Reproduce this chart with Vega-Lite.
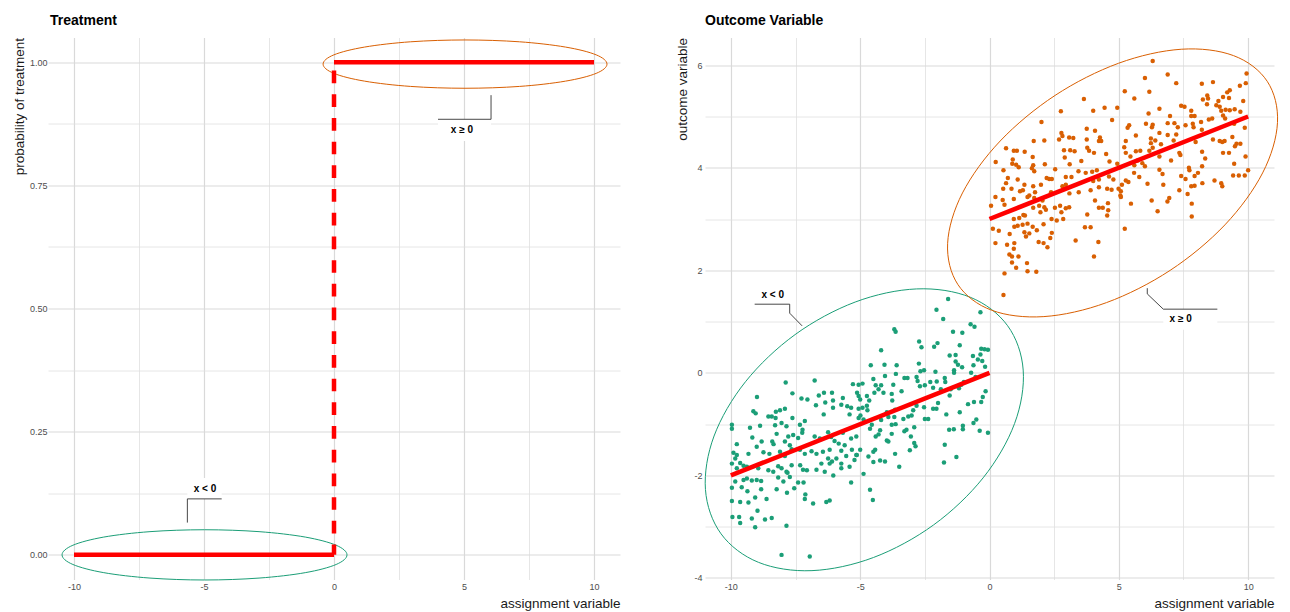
{
  "$schema": "https://vega.github.io/schema/vega-lite/v6.json",
  "background": "white",
  "padding": {"left": 12, "top": 13.5, "right": 5, "bottom": 5},
  "spacing": 55,
  "config": {
    "font": "Liberation Sans",
    "view": {"stroke": null},
    "axis": {
      "domain": false,
      "ticks": false,
      "labelFontSize": 9,
      "labelColor": "#4d4d4d",
      "labelPadding": 3,
      "labelFlush": false,
      "labelOverlap": false,
      "titleFontSize": 13.5,
      "titleFontWeight": "normal",
      "titleColor": "#1a1a1a",
      "titleAnchor": "end",
      "titlePadding": 4
    },
    "axisX": {"titlePadding": 5},
    "title": {"anchor": "start", "frame": "group", "fontSize": 14, "fontWeight": "bold", "color": "#000000", "offset": 10, "baseline": "bottom"}
  },
  "datasets": {
    "ellipses": [
      {"e": "tl", "i": 0, "x": 0.5, "y": 0},
      {"e": "tl", "i": 1, "x": 0.083, "y": 0.0195},
      {"e": "tl", "i": 2, "x": -1.105, "y": 0.0361},
      {"e": "tl", "i": 3, "x": -2.883, "y": 0.0471},
      {"e": "tl", "i": 4, "x": -4.98, "y": 0.051},
      {"e": "tl", "i": 5, "x": -7.077, "y": 0.0471},
      {"e": "tl", "i": 6, "x": -8.855, "y": 0.0361},
      {"e": "tl", "i": 7, "x": -10.043, "y": 0.0195},
      {"e": "tl", "i": 8, "x": -10.46, "y": 0},
      {"e": "tl", "i": 9, "x": -10.043, "y": -0.0195},
      {"e": "tl", "i": 10, "x": -8.855, "y": -0.0361},
      {"e": "tl", "i": 11, "x": -7.077, "y": -0.0471},
      {"e": "tl", "i": 12, "x": -4.98, "y": -0.051},
      {"e": "tl", "i": 13, "x": -2.883, "y": -0.0471},
      {"e": "tl", "i": 14, "x": -1.105, "y": -0.0361},
      {"e": "tl", "i": 15, "x": 0.083, "y": -0.0195},
      {"e": "tr", "i": 0, "x": 10.5, "y": 0.996},
      {"e": "tr", "i": 1, "x": 10.084, "y": 1.0148},
      {"e": "tr", "i": 2, "x": 8.901, "y": 1.0306},
      {"e": "tr", "i": 3, "x": 7.13, "y": 1.0413},
      {"e": "tr", "i": 4, "x": 5.04, "y": 1.045},
      {"e": "tr", "i": 5, "x": 2.95, "y": 1.0413},
      {"e": "tr", "i": 6, "x": 1.179, "y": 1.0306},
      {"e": "tr", "i": 7, "x": -0.004, "y": 1.0148},
      {"e": "tr", "i": 8, "x": -0.42, "y": 0.996},
      {"e": "tr", "i": 9, "x": -0.004, "y": 0.9772},
      {"e": "tr", "i": 10, "x": 1.179, "y": 0.9614},
      {"e": "tr", "i": 11, "x": 2.95, "y": 0.9507},
      {"e": "tr", "i": 12, "x": 5.04, "y": 0.947},
      {"e": "tr", "i": 13, "x": 7.13, "y": 0.9507},
      {"e": "tr", "i": 14, "x": 8.901, "y": 0.9614},
      {"e": "tr", "i": 15, "x": 10.084, "y": 0.9772},
      {"e": "ol", "i": 0, "x": 0.7, "y": 0.919},
      {"e": "ol", "i": 1, "x": -0.746, "y": 1.475},
      {"e": "ol", "i": 2, "x": -2.816, "y": 1.637},
      {"e": "ol", "i": 3, "x": -5.193, "y": 1.381},
      {"e": "ol", "i": 4, "x": -7.517, "y": 0.746},
      {"e": "ol", "i": 5, "x": -9.433, "y": -0.172},
      {"e": "ol", "i": 6, "x": -10.65, "y": -1.232},
      {"e": "ol", "i": 7, "x": -10.983, "y": -2.274},
      {"e": "ol", "i": 8, "x": -10.38, "y": -3.139},
      {"e": "ol", "i": 9, "x": -8.934, "y": -3.695},
      {"e": "ol", "i": 10, "x": -6.864, "y": -3.857},
      {"e": "ol", "i": 11, "x": -4.487, "y": -3.601},
      {"e": "ol", "i": 12, "x": -2.163, "y": -2.966},
      {"e": "ol", "i": 13, "x": -0.247, "y": -2.048},
      {"e": "ol", "i": 14, "x": 0.97, "y": -0.988},
      {"e": "ol", "i": 15, "x": 1.303, "y": 0.054},
      {"e": "or", "i": 0, "x": 10.739, "y": 5.685},
      {"e": "or", "i": 1, "x": 9.433, "y": 6.187},
      {"e": "or", "i": 2, "x": 7.414, "y": 6.311},
      {"e": "or", "i": 3, "x": 4.992, "y": 6.038},
      {"e": "or", "i": 4, "x": 2.534, "y": 5.41},
      {"e": "or", "i": 5, "x": 0.414, "y": 4.522},
      {"e": "or", "i": 6, "x": -1.044, "y": 3.509},
      {"e": "or", "i": 7, "x": -1.619, "y": 2.527},
      {"e": "or", "i": 8, "x": -1.223, "y": 1.723},
      {"e": "or", "i": 9, "x": 0.083, "y": 1.221},
      {"e": "or", "i": 10, "x": 2.102, "y": 1.097},
      {"e": "or", "i": 11, "x": 4.524, "y": 1.37},
      {"e": "or", "i": 12, "x": 6.982, "y": 1.998},
      {"e": "or", "i": 13, "x": 9.102, "y": 2.886},
      {"e": "or", "i": 14, "x": 10.56, "y": 3.899},
      {"e": "or", "i": 15, "x": 11.135, "y": 4.881}
    ],
    "treatFits": [
      {"x": -10, "x2": 0, "y": 0, "y2": 0},
      {"x": 0, "x2": 10, "y": 1, "y2": 1}
    ],
    "treatJump": [
      {"x": 0, "y": 0, "y2": 1}
    ],
    "outcomeFits": [
      {"x": -10, "x2": 0, "y": -2, "y2": 0},
      {"x": 0, "x2": 10, "y": 3, "y2": 5}
    ],
    "leaders": [
      {"p": "t", "e": "a", "i": 0, "x": -5.64, "y": 0.0655},
      {"p": "t", "e": "a", "i": 1, "x": -5.64, "y": 0.1136},
      {"p": "t", "e": "a", "i": 2, "x": -4.32, "y": 0.1136},
      {"p": "t", "e": "b", "i": 0, "x": 6.04, "y": 0.933},
      {"p": "t", "e": "b", "i": 1, "x": 6.04, "y": 0.884},
      {"p": "t", "e": "b", "i": 2, "x": 4.0, "y": 0.884},
      {"p": "o", "e": "a", "i": 0, "x": -7.245, "y": 0.916},
      {"p": "o", "e": "a", "i": 1, "x": -7.725, "y": 1.164},
      {"p": "o", "e": "a", "i": 2, "x": -7.725, "y": 1.339},
      {"p": "o", "e": "a", "i": 3, "x": -9.08, "y": 1.339},
      {"p": "o", "e": "b", "i": 0, "x": 6.1, "y": 1.651},
      {"p": "o", "e": "b", "i": 1, "x": 6.1, "y": 1.54},
      {"p": "o", "e": "b", "i": 2, "x": 6.72, "y": 1.242},
      {"p": "o", "e": "b", "i": 3, "x": 8.81, "y": 1.242}
    ],
    "labels": [
      {"p": "t", "t": "x < 0", "tx": -4.96, "ty": 0.134, "x": -5.64, "x2": -4.32, "y": 0.1136, "y2": 0.156},
      {"p": "t", "t": "x ≥ 0", "tx": 4.92, "ty": 0.862, "x": 4.0, "x2": 6.04, "y": 0.884, "y2": 0.84},
      {"p": "o", "t": "x < 0", "tx": -8.38, "ty": 1.52, "x": -9.08, "x2": -7.725, "y": 1.339, "y2": 1.72},
      {"p": "o", "t": "x ≥ 0", "tx": 7.39, "ty": 1.047, "x": 6.72, "x2": 8.81, "y": 1.242, "y2": 0.84}
    ],
    "control": [
      {"x":-7.88,"y":-0.19},{"x":-6.76,"y":-0.15},{"x":-8.99,"y":-0.47},{"x":-7.62,"y":-0.40},{"x":-7.27,"y":-0.50},{"x":-7.04,"y":-0.52},{"x":-6.60,"y":-0.44},{"x":-6.40,"y":-0.39},{"x":-6.71,"y":-0.63},{"x":-6.09,"y":-0.39},
      {"x":-6.35,"y":-0.58},{"x":-6.05,"y":-0.54},{"x":-5.28,"y":-0.22},{"x":-5.67,"y":-0.49},{"x":-5.35,"y":-0.68},{"x":-5.50,"y":-0.65},{"x":-5.41,"y":-0.81},{"x":-5.12,"y":-0.39},{"x":-9.13,"y":-0.75},{"x":-9.04,"y":-0.79},
      {"x":-8.55,"y":-0.85},{"x":-8.42,"y":-0.85},{"x":-8.26,"y":-0.76},{"x":-8.10,"y":-0.73},{"x":-7.91,"y":-0.70},{"x":-8.27,"y":-0.88},{"x":-8.04,"y":-0.98},{"x":-7.62,"y":-0.88},{"x":-9.96,"y":-1.01},{"x":-9.96,"y":-1.09},
      {"x":-9.26,"y":-1.07},{"x":-8.87,"y":-1.03},{"x":-8.29,"y":-1.02},{"x":-7.85,"y":-1.04},{"x":-7.33,"y":-1.01},{"x":-7.14,"y":-0.94},{"x":-7.23,"y":-1.11},{"x":-6.41,"y":-0.81},{"x":-6.05,"y":-0.68},{"x":-5.73,"y":-0.62},
      {"x":-9.17,"y":-1.26},{"x":-8.23,"y":-1.19},{"x":-7.78,"y":-1.24},{"x":-7.59,"y":-1.21},{"x":-7.40,"y":-1.27},{"x":-7.24,"y":-1.17},{"x":-6.76,"y":-1.24},{"x":-6.56,"y":-1.28},{"x":-6.24,"y":-1.16},{"x":-6.12,"y":-1.25},
      {"x":-5.67,"y":-1.17},{"x":-5.99,"y":-1.33},{"x":-5.83,"y":-1.38},{"x":-5.60,"y":-1.41},{"x":-5.35,"y":-1.28},{"x":-5.15,"y":-1.24},{"x":-8.40,"y":-1.34},{"x":-8.35,"y":-1.39},{"x":-7.91,"y":-1.34},{"x":-7.72,"y":-1.41},
      {"x":-8.81,"y":-1.34},{"x":-9.00,"y":-1.44},{"x":-9.77,"y":-1.39},{"x":-9.90,"y":-1.56},{"x":-9.77,"y":-1.60},{"x":-9.83,"y":-1.67},{"x":-9.32,"y":-1.58},{"x":-8.74,"y":-1.55},{"x":-8.51,"y":-1.58},{"x":-8.10,"y":-1.54},
      {"x":-7.91,"y":-1.62},{"x":-7.65,"y":-1.49},{"x":-7.33,"y":-1.50},{"x":-7.14,"y":-1.58},{"x":-6.88,"y":-1.53},{"x":-6.69,"y":-1.58},{"x":-6.44,"y":-1.54},{"x":-6.18,"y":-1.50},{"x":-5.73,"y":-1.52},{"x":-5.32,"y":-1.50},
      {"x":-5.15,"y":-1.60},{"x":-6.24,"y":-1.67},{"x":-6.09,"y":-1.73},{"x":-6.18,"y":-1.77},{"x":-5.92,"y":-1.67},{"x":-5.73,"y":-1.77},{"x":-5.54,"y":-1.62},{"x":-9.96,"y":-1.77},{"x":-9.64,"y":-1.76},{"x":-9.51,"y":-1.81},
      {"x":-9.38,"y":-1.83},{"x":-9.77,"y":-1.86},{"x":-8.94,"y":-1.86},{"x":-8.55,"y":-1.90},{"x":-8.36,"y":-1.93},{"x":-8.17,"y":-1.82},{"x":-8.04,"y":-1.86},{"x":-7.85,"y":-1.93},{"x":-7.65,"y":-1.80},{"x":-7.32,"y":-1.80},
      {"x":-7.21,"y":-1.89},{"x":-7.06,"y":-1.90},{"x":-6.69,"y":-1.89},{"x":-6.50,"y":-1.77},{"x":-6.37,"y":-1.93},{"x":-6.04,"y":-2.00},{"x":-5.73,"y":-1.86},{"x":-5.41,"y":-1.83},{"x":-5.22,"y":-1.70},{"x":-9.83,"y":-2.12},
      {"x":-9.51,"y":-2.09},{"x":-9.38,"y":-2.06},{"x":-9.19,"y":-2.10},{"x":-9.00,"y":-2.09},{"x":-8.83,"y":-2.11},{"x":-8.17,"y":-2.04},{"x":-7.97,"y":-2.12},{"x":-7.81,"y":-1.95},{"x":-7.72,"y":-2.03},{"x":-7.40,"y":-2.14},
      {"x":-7.19,"y":-2.14},{"x":-9.96,"y":-2.24},{"x":-9.58,"y":-2.23},{"x":-9.36,"y":-2.31},{"x":-8.83,"y":-2.27},{"x":-9.06,"y":-2.43},{"x":-9.32,"y":-2.53},{"x":-8.97,"y":-2.69},{"x":-9.64,"y":-2.52},{"x":-9.96,"y":-2.50},
      {"x":-8.23,"y":-2.27},{"x":-7.83,"y":-2.34},{"x":-7.55,"y":-2.25},{"x":-7.12,"y":-2.37},{"x":-7.14,"y":-2.46},{"x":-6.82,"y":-2.55},{"x":-6.31,"y":-2.52},{"x":-6.18,"y":-2.49},{"x":-5.35,"y":-2.14},{"x":-8.62,"y":-2.46},
      {"x":-9.94,"y":-2.81},{"x":-9.68,"y":-2.81},{"x":-9.64,"y":-2.93},{"x":-9.19,"y":-2.84},{"x":-8.68,"y":-2.86},{"x":-8.42,"y":-2.83},{"x":-9.06,"y":-3.01},{"x":-7.85,"y":-2.98},{"x":-8.04,"y":-3.55},{"x":-6.95,"y":-3.58},
      {"x":-1.60,"y":1.44},{"x":-2.05,"y":1.23},{"x":-1.79,"y":1.05},{"x":-0.35,"y":1.18},{"x":-3.68,"y":0.85},{"x":-3.63,"y":0.80},{"x":-2.72,"y":0.61},{"x":-2.63,"y":0.50},{"x":-2.14,"y":0.51},{"x":-2.01,"y":0.58},
      {"x":-1.41,"y":0.80},{"x":-1.05,"y":0.78},{"x":-0.73,"y":0.95},{"x":-0.58,"y":0.90},{"x":-1.15,"y":0.54},{"x":-0.32,"y":0.47},{"x":-0.19,"y":0.46},{"x":-0.06,"y":0.45},{"x":-4.19,"y":0.44},{"x":-1.54,"y":0.34},
      {"x":-1.31,"y":0.35},{"x":-1.31,"y":0.22},{"x":-1.22,"y":0.16},{"x":-0.64,"y":0.33},{"x":-0.62,"y":0.15},{"x":-0.45,"y":0.26},{"x":-0.28,"y":0.23},{"x":-0.35,"y":0.36},{"x":-0.17,"y":0.12},{"x":-4.59,"y":0.15},
      {"x":-4.06,"y":0.16},{"x":-3.59,"y":0.15},{"x":-2.73,"y":0.18},{"x":-2.67,"y":0.03},{"x":-2.53,"y":0.05},{"x":-2.09,"y":0.02},{"x":-1.37,"y":0.05},{"x":-1.06,"y":0.11},{"x":-1.37,"y":0.00},{"x":-0.71,"y":0.00},
      {"x":-0.54,"y":-0.08},{"x":-4.04,"y":-0.06},{"x":-3.62,"y":-0.02},{"x":-3.29,"y":-0.10},{"x":-3.17,"y":-0.10},{"x":-2.82,"y":-0.08},{"x":-5.06,"y":-0.23},{"x":-4.91,"y":-0.21},{"x":-4.49,"y":-0.12},{"x":-4.40,"y":-0.24},
      {"x":-4.19,"y":-0.24},{"x":-3.72,"y":-0.23},{"x":-3.40,"y":-0.36},{"x":-2.78,"y":-0.16},{"x":-2.69,"y":-0.26},{"x":-2.50,"y":-0.24},{"x":-2.29,"y":-0.18},{"x":-2.18,"y":-0.29},{"x":-2.04,"y":-0.17},{"x":-1.73,"y":-0.10},
      {"x":-1.71,"y":-0.18},{"x":-1.88,"y":-0.32},{"x":-1.50,"y":-0.32},{"x":-1.54,"y":-0.44},{"x":-1.18,"y":-0.30},{"x":-1.09,"y":-0.23},{"x":-0.99,"y":-0.18},{"x":-0.83,"y":-0.61},{"x":-0.60,"y":-0.57},{"x":-0.32,"y":-0.57},
      {"x":-0.26,"y":-0.47},{"x":-0.15,"y":-0.36},{"x":-5.06,"y":-0.45},{"x":-5.00,"y":-0.52},{"x":-4.74,"y":-0.45},{"x":-4.65,"y":-0.54},{"x":-4.45,"y":-0.39},{"x":-4.29,"y":-0.32},{"x":-4.10,"y":-0.39},{"x":-3.76,"y":-0.54},
      {"x":-3.78,"y":-0.41},{"x":-5.06,"y":-0.70},{"x":-4.91,"y":-0.68},{"x":-4.74,"y":-0.64},{"x":-4.72,"y":-0.73},{"x":-4.99,"y":-0.83},{"x":-5.06,"y":-0.88},{"x":-4.87,"y":-0.91},{"x":-4.19,"y":-0.92},{"x":-3.97,"y":-0.77},
      {"x":-3.91,"y":-0.86},{"x":-3.68,"y":-0.86},{"x":-3.65,"y":-0.72},{"x":-3.78,"y":-1.01},{"x":-3.63,"y":-1.00},{"x":-3.33,"y":-0.90},{"x":-3.14,"y":-0.85},{"x":-3.01,"y":-0.83},{"x":-2.95,"y":-0.73},{"x":-2.82,"y":-0.64},
      {"x":-2.53,"y":-0.67},{"x":-2.50,"y":-0.90},{"x":-2.37,"y":-0.90},{"x":-2.18,"y":-0.70},{"x":-2.05,"y":-0.70},{"x":-1.99,"y":-0.59},{"x":-1.67,"y":-0.81},{"x":-1.15,"y":-0.77},{"x":-4.55,"y":-1.01},{"x":-4.62,"y":-1.09},
      {"x":-4.23,"y":-1.12},{"x":-4.40,"y":-1.24},{"x":-4.29,"y":-1.20},{"x":-3.97,"y":-1.32},{"x":-3.91,"y":-1.34},{"x":-3.78,"y":-1.19},{"x":-3.29,"y":-1.14},{"x":-3.21,"y":-1.11},{"x":-3.04,"y":-1.24},{"x":-2.91,"y":-1.06},
      {"x":-2.91,"y":-1.37},{"x":-2.86,"y":-1.43},{"x":-3.08,"y":-1.51},{"x":-1.56,"y":-1.11},{"x":-1.38,"y":-1.10},{"x":-1.03,"y":-1.03},{"x":-1.03,"y":-1.10},{"x":-0.62,"y":-0.98},{"x":-0.51,"y":-0.91},{"x":-0.38,"y":-1.13},
      {"x":-0.06,"y":-1.17},{"x":-1.73,"y":-1.40},{"x":-5.13,"y":-1.60},{"x":-5.00,"y":-1.50},{"x":-4.68,"y":-1.63},{"x":-4.49,"y":-1.54},{"x":-4.42,"y":-1.50},{"x":-4.49,"y":-1.74},{"x":-4.23,"y":-1.71},{"x":-4.04,"y":-1.73},
      {"x":-3.65,"y":-1.58},{"x":-3.49,"y":-1.83},{"x":-1.76,"y":-1.75},{"x":-1.28,"y":-1.64},{"x":-4.87,"y":-1.97},{"x":-4.62,"y":-2.28},{"x":-4.51,"y":-2.48}
    ],
    "treated": [
      {"x":3.65,"y":5.34},{"x":2.76,"y":5.10},{"x":4.01,"y":5.11},{"x":4.45,"y":5.17},{"x":4.94,"y":5.17},{"x":4.74,"y":4.93},{"x":2.01,"y":4.89},{"x":2.78,"y":4.68},{"x":2.82,"y":4.62},{"x":2.69,"y":4.55},
      {"x":3.08,"y":4.59},{"x":3.24,"y":4.58},{"x":3.76,"y":4.76},{"x":4.08,"y":4.72},{"x":3.76,"y":4.55},{"x":4.27,"y":4.59},{"x":4.23,"y":4.52},{"x":4.32,"y":4.52},{"x":1.71,"y":4.52},{"x":2.12,"y":4.53},
      {"x":0.64,"y":4.38},{"x":0.94,"y":4.33},{"x":1.06,"y":4.33},{"x":1.36,"y":4.31},{"x":2.88,"y":4.34},{"x":3.12,"y":4.34},{"x":3.29,"y":4.32},{"x":3.78,"y":4.39},{"x":3.85,"y":4.33},{"x":4.04,"y":4.29},
      {"x":4.51,"y":4.27},{"x":0.90,"y":4.16},{"x":1.67,"y":4.21},{"x":2.91,"y":4.20},{"x":0.24,"y":4.11},{"x":0.88,"y":4.08},{"x":1.03,"y":4.06},{"x":1.13,"y":4.01},{"x":1.69,"y":4.05},{"x":2.14,"y":4.07},
      {"x":3.10,"y":4.07},{"x":3.55,"y":4.13},{"x":4.64,"y":4.12},{"x":4.94,"y":4.08},{"x":5.06,"y":4.01},{"x":0.54,"y":3.95},{"x":1.64,"y":3.99},{"x":1.73,"y":3.93},{"x":2.54,"y":3.97},{"x":3.44,"y":3.93},
      {"x":3.72,"y":3.90},{"x":3.97,"y":3.92},{"x":4.15,"y":3.95},{"x":0.71,"y":3.80},{"x":1.09,"y":3.77},{"x":2.21,"y":3.80},{"x":2.31,"y":3.78},{"x":2.41,"y":3.78},{"x":2.95,"y":3.82},{"x":3.17,"y":3.82},
      {"x":4.01,"y":3.74},{"x":4.23,"y":3.77},{"x":4.62,"y":3.83},{"x":4.79,"y":3.77},{"x":0.64,"y":3.70},{"x":1.35,"y":3.67},{"x":1.69,"y":3.64},{"x":1.99,"y":3.67},{"x":2.82,"y":3.64},{"x":2.95,"y":3.67},
      {"x":0.53,"y":3.59},{"x":0.85,"y":3.59},{"x":1.18,"y":3.54},{"x":1.29,"y":3.56},{"x":1.76,"y":3.52},{"x":1.54,"y":3.46},{"x":2.38,"y":3.52},{"x":3.09,"y":3.50},{"x":3.45,"y":3.52},{"x":3.91,"y":3.56},
      {"x":4.23,"y":3.62},{"x":4.55,"y":3.59},{"x":4.72,"y":3.57},{"x":4.99,"y":3.59},{"x":5.06,"y":3.46},{"x":0.23,"y":3.43},{"x":0.51,"y":3.37},{"x":0.58,"y":3.28},{"x":0.94,"y":3.39},{"x":1.47,"y":3.43},
      {"x":1.73,"y":3.41},{"x":2.05,"y":3.36},{"x":1.92,"y":3.26},{"x":2.12,"y":3.23},{"x":2.18,"y":3.18},{"x":1.97,"y":3.13},{"x":1.69,"y":3.22},{"x":2.73,"y":3.26},{"x":2.95,"y":3.21},{"x":3.08,"y":3.23},
      {"x":2.53,"y":3.22},{"x":2.78,"y":3.13},{"x":4.08,"y":3.36},{"x":4.23,"y":3.22},{"x":4.38,"y":3.22},{"x":4.58,"y":3.31},{"x":4.59,"y":3.17},{"x":4.55,"y":3.07},{"x":0.06,"y":3.26},{"x":0.94,"y":3.00},
      {"x":1.15,"y":3.02},{"x":1.31,"y":3.08},{"x":1.37,"y":3.07},{"x":2.40,"y":3.00},{"x":2.60,"y":2.97},{"x":2.85,"y":3.00},{"x":3.78,"y":3.09},{"x":0.13,"y":2.81},{"x":0.36,"y":2.77},{"x":0.78,"y":2.71},
      {"x":0.96,"y":2.85},{"x":1.09,"y":2.87},{"x":1.28,"y":2.89},{"x":1.47,"y":2.91},{"x":1.67,"y":2.85},{"x":1.35,"y":2.74},{"x":1.41,"y":2.66},{"x":1.54,"y":2.72},{"x":1.83,"y":2.78},{"x":2.09,"y":2.90},
      {"x":2.41,"y":2.73},{"x":2.35,"y":2.63},{"x":3.69,"y":2.84},{"x":3.91,"y":2.84},{"x":0.23,"y":2.53},{"x":0.68,"y":2.50},{"x":0.96,"y":2.53},{"x":0.94,"y":2.42},{"x":0.77,"y":2.31},{"x":0.87,"y":2.27},
      {"x":1.12,"y":2.27},{"x":0.87,"y":2.15},{"x":1.03,"y":2.05},{"x":1.45,"y":2.14},{"x":1.47,"y":1.98},{"x":1.81,"y":1.97},{"x":1.90,"y":2.55},{"x":2.09,"y":2.53},{"x":2.24,"y":2.45},{"x":3.33,"y":2.58},
      {"x":4.21,"y":2.55},{"x":4.04,"y":2.27},{"x":0.58,"y":1.94},{"x":0.54,"y":1.52},
      {"x":6.31,"y":6.08},{"x":6.89,"y":5.82},{"x":6.01,"y":5.75},{"x":7.22,"y":5.65},{"x":5.23,"y":5.49},{"x":6.18,"y":5.48},{"x":5.60,"y":5.35},{"x":8.21,"y":5.64},{"x":8.64,"y":5.67},{"x":9.94,"y":5.84},
      {"x":9.91,"y":5.65},{"x":9.68,"y":5.60},{"x":9.29,"y":5.51},{"x":9.19,"y":5.47},{"x":8.42,"y":5.41},{"x":8.45,"y":5.35},{"x":8.25,"y":5.33},{"x":9.03,"y":5.38},{"x":9.26,"y":5.36},{"x":8.85,"y":5.30},
      {"x":8.77,"y":5.22},{"x":8.90,"y":5.19},{"x":8.41,"y":5.24},{"x":9.81,"y":5.30},{"x":7.41,"y":5.21},{"x":7.54,"y":5.19},{"x":6.57,"y":5.15},{"x":7.80,"y":5.11},{"x":7.93,"y":5.01},{"x":7.80,"y":5.01},
      {"x":6.15,"y":5.06},{"x":6.98,"y":5.01},{"x":8.96,"y":5.11},{"x":9.13,"y":5.13},{"x":9.29,"y":5.12},{"x":9.48,"y":5.14},{"x":9.70,"y":5.09},{"x":9.03,"y":5.02},{"x":9.11,"y":4.96},{"x":8.48,"y":4.94},
      {"x":8.61,"y":4.96},{"x":8.18,"y":4.89},{"x":5.40,"y":4.83},{"x":5.34,"y":4.78},{"x":6.05,"y":4.86},{"x":6.31,"y":4.84},{"x":6.28,"y":4.79},{"x":6.89,"y":4.87},{"x":7.15,"y":4.87},{"x":7.28,"y":4.79},
      {"x":7.58,"y":4.83},{"x":7.86,"y":4.86},{"x":7.89,"y":4.79},{"x":9.46,"y":4.86},{"x":9.87,"y":4.78},{"x":6.57,"y":4.68},{"x":5.66,"y":4.63},{"x":6.89,"y":4.64},{"x":7.22,"y":4.65},{"x":8.21,"y":4.74},
      {"x":9.39,"y":4.60},{"x":5.27,"y":4.52},{"x":6.24,"y":4.57},{"x":6.41,"y":4.53},{"x":7.12,"y":4.53},{"x":8.64,"y":4.55},{"x":8.90,"y":4.52},{"x":9.00,"y":4.50},{"x":9.09,"y":4.52},{"x":7.97,"y":4.50},
      {"x":5.21,"y":4.40},{"x":6.24,"y":4.48},{"x":6.63,"y":4.46},{"x":6.31,"y":4.39},{"x":9.55,"y":4.47},{"x":9.70,"y":4.47},{"x":9.49,"y":4.42},{"x":5.27,"y":4.29},{"x":5.66,"y":4.32},{"x":5.83,"y":4.33},
      {"x":5.45,"y":4.22},{"x":6.18,"y":4.33},{"x":6.57,"y":4.22},{"x":7.34,"y":4.29},{"x":7.38,"y":4.25},{"x":8.22,"y":4.31},{"x":9.03,"y":4.29},{"x":9.26,"y":4.29},{"x":9.90,"y":4.22},{"x":7.02,"y":4.14},
      {"x":8.34,"y":4.18},{"x":5.73,"y":4.14},{"x":5.60,"y":4.05},{"x":5.91,"y":4.09},{"x":6.01,"y":4.03},{"x":9.46,"y":4.08},{"x":8.22,"y":4.03},{"x":6.57,"y":3.96},{"x":7.71,"y":4.00},{"x":7.73,"y":3.95},
      {"x":6.69,"y":3.88},{"x":5.59,"y":3.90},{"x":7.41,"y":3.84},{"x":7.58,"y":3.78},{"x":8.06,"y":3.90},{"x":7.93,"y":3.84},{"x":9.42,"y":3.85},{"x":9.64,"y":3.85},{"x":9.87,"y":3.85},{"x":10.0,"y":3.95},
      {"x":5.27,"y":3.75},{"x":5.37,"y":3.72},{"x":5.79,"y":3.82},{"x":5.12,"y":3.67},{"x":6.11,"y":3.69},{"x":6.72,"y":3.67},{"x":8.23,"y":3.70},{"x":8.70,"y":3.75},{"x":8.96,"y":3.70},{"x":9.00,"y":3.64},
      {"x":7.80,"y":3.64},{"x":7.93,"y":3.65},{"x":7.34,"y":3.56},{"x":7.66,"y":3.49},{"x":5.08,"y":3.54},{"x":5.08,"y":3.43},{"x":6.95,"y":3.41},{"x":6.88,"y":3.34},{"x":5.47,"y":3.30},{"x":6.27,"y":3.36},
      {"x":7.82,"y":3.30},{"x":6.50,"y":3.15},{"x":7.82,"y":3.05},{"x":5.23,"y":2.81}
    ]
  },
  "hconcat": [
    {
      "title": {"text": "Treatment", "dx": 2},
      "width": 572,
      "height": 542,
      "layer": [
        {
          "data": {"name": "ellipses"},
          "transform": [{"filter": "datum.e === 'tl'"}],
          "mark": {"type": "line", "interpolate": "cardinal-closed", "color": "#1b9e77", "strokeWidth": 1},
          "encoding": {
            "x": {
              "field": "x", "type": "quantitative",
              "scale": {"domain": [-11, 11], "nice": false, "zero": false},
              "axis": {
                "title": "assignment variable",
                "values": [-10, -7.5, -5, -2.5, 0, 2.5, 5, 7.5, 10],
                "labelExpr": "datum.value % 5 === 0 ? '' + datum.value : ''",
                "gridColor": {"condition": {"test": "datum.value % 5 === 0", "value": "#d9d9d9"}, "value": "#e0e0e0"},
                "gridWidth": {"condition": {"test": "datum.value % 5 === 0", "value": 1.2}, "value": 0.8}
              }
            },
            "y": {
              "field": "y", "type": "quantitative",
              "scale": {"domain": [-0.05, 1.05], "nice": false, "zero": false},
              "axis": {
                "title": "probability of treatment",
                "labelPadding": 1,
                "titlePadding": 3,
                "values": [0, 0.125, 0.25, 0.375, 0.5, 0.625, 0.75, 0.875, 1],
                "labelExpr": "round(datum.value * 8) % 2 === 0 ? format(datum.value, '.2f') : ''",
                "gridColor": {"condition": {"test": "round(datum.value * 8) % 2 === 0", "value": "#d9d9d9"}, "value": "#e0e0e0"},
                "gridWidth": {"condition": {"test": "round(datum.value * 8) % 2 === 0", "value": 1.2}, "value": 0.8}
              }
            },
            "order": {"field": "i", "type": "quantitative"}
          }
        },
        {
          "data": {"name": "ellipses"},
          "transform": [{"filter": "datum.e === 'tr'"}],
          "mark": {"type": "line", "interpolate": "cardinal-closed", "color": "#d95f02", "strokeWidth": 1},
          "encoding": {
            "x": {"field": "x", "type": "quantitative"},
            "y": {"field": "y", "type": "quantitative"},
            "order": {"field": "i", "type": "quantitative"}
          }
        },
        {
          "data": {"name": "treatFits"},
          "mark": {"type": "rule", "color": "#ff0000", "strokeWidth": 4.5},
          "encoding": {
            "x": {"field": "x", "type": "quantitative"},
            "x2": {"field": "x2"},
            "y": {"field": "y", "type": "quantitative"},
            "y2": {"field": "y2"}
          }
        },
        {
          "data": {"name": "treatJump"},
          "mark": {"type": "rule", "color": "#ff0000", "strokeWidth": 4.5, "strokeDash": [12.7, 11], "strokeDashOffset": 2.4},
          "encoding": {
            "x": {"field": "x", "type": "quantitative"},
            "y": {"field": "y", "type": "quantitative"},
            "y2": {"field": "y2"}
          }
        },
        {
          "data": {"name": "labels"},
          "transform": [{"filter": "datum.p === 't'"}],
          "mark": {"type": "rect", "fill": "white"},
          "encoding": {
            "x": {"field": "x", "type": "quantitative"},
            "x2": {"field": "x2"},
            "y": {"field": "y", "type": "quantitative"},
            "y2": {"field": "y2"}
          }
        },
        {
          "data": {"name": "leaders"},
          "transform": [{"filter": "datum.p === 't'"}],
          "mark": {"type": "line", "color": "#333333", "strokeWidth": 0.9},
          "encoding": {
            "x": {"field": "x", "type": "quantitative"},
            "y": {"field": "y", "type": "quantitative"},
            "detail": {"field": "e"},
            "order": {"field": "i", "type": "quantitative"}
          }
        },
        {
          "data": {"name": "labels"},
          "transform": [{"filter": "datum.p === 't'"}],
          "mark": {"type": "text", "fontSize": 10, "fontWeight": "bold", "color": "#000000", "align": "center", "baseline": "middle"},
          "encoding": {
            "x": {"field": "tx", "type": "quantitative"},
            "y": {"field": "ty", "type": "quantitative"},
            "text": {"field": "t"}
          }
        }
      ]
    },
    {
      "title": {"text": "Outcome Variable"},
      "width": 569,
      "height": 542,
      "layer": [
        {
          "data": {"name": "ellipses"},
          "transform": [{"filter": "datum.e === 'ol'"}],
          "mark": {"type": "line", "interpolate": "cardinal-closed", "color": "#1b9e77", "strokeWidth": 1},
          "encoding": {
            "x": {
              "field": "x", "type": "quantitative",
              "scale": {"domain": [-11, 11], "nice": false, "zero": false},
              "axis": {
                "title": "assignment variable",
                "values": [-10, -7.5, -5, -2.5, 0, 2.5, 5, 7.5, 10],
                "labelExpr": "datum.value % 5 === 0 ? '' + datum.value : ''",
                "gridColor": {"condition": {"test": "datum.value % 5 === 0", "value": "#d9d9d9"}, "value": "#e0e0e0"},
                "gridWidth": {"condition": {"test": "datum.value % 5 === 0", "value": 1.2}, "value": 0.8}
              }
            },
            "y": {
              "field": "y", "type": "quantitative",
              "scale": {"domain": [-4.03, 6.54], "nice": false, "zero": false},
              "axis": {
                "title": "outcome variable",
                "values": [-4, -3, -2, -1, 0, 1, 2, 3, 4, 5, 6],
                "labelExpr": "datum.value % 2 === 0 ? '' + datum.value : ''",
                "gridColor": {"condition": {"test": "datum.value % 2 === 0", "value": "#d9d9d9"}, "value": "#e0e0e0"},
                "gridWidth": {"condition": {"test": "datum.value % 2 === 0", "value": 1.2}, "value": 0.8}
              }
            },
            "order": {"field": "i", "type": "quantitative"}
          }
        },
        {
          "data": {"name": "ellipses"},
          "transform": [{"filter": "datum.e === 'or'"}],
          "mark": {"type": "line", "interpolate": "cardinal-closed", "color": "#d95f02", "strokeWidth": 1},
          "encoding": {
            "x": {"field": "x", "type": "quantitative"},
            "y": {"field": "y", "type": "quantitative"},
            "order": {"field": "i", "type": "quantitative"}
          }
        },
        {
          "data": {"name": "control"},
          "mark": {"type": "circle", "color": "#1b9e77", "opacity": 1, "size": 20},
          "encoding": {
            "x": {"field": "x", "type": "quantitative"},
            "y": {"field": "y", "type": "quantitative"}
          }
        },
        {
          "data": {"name": "treated"},
          "mark": {"type": "circle", "color": "#d95f02", "opacity": 1, "size": 20},
          "encoding": {
            "x": {"field": "x", "type": "quantitative"},
            "y": {"field": "y", "type": "quantitative"}
          }
        },
        {
          "data": {"name": "outcomeFits"},
          "mark": {"type": "rule", "color": "#ff0000", "strokeWidth": 4.5},
          "encoding": {
            "x": {"field": "x", "type": "quantitative"},
            "x2": {"field": "x2"},
            "y": {"field": "y", "type": "quantitative"},
            "y2": {"field": "y2"}
          }
        },
        {
          "data": {"name": "labels"},
          "transform": [{"filter": "datum.p === 'o'"}],
          "mark": {"type": "rect", "fill": "white"},
          "encoding": {
            "x": {"field": "x", "type": "quantitative"},
            "x2": {"field": "x2"},
            "y": {"field": "y", "type": "quantitative"},
            "y2": {"field": "y2"}
          }
        },
        {
          "data": {"name": "leaders"},
          "transform": [{"filter": "datum.p === 'o'"}],
          "mark": {"type": "line", "color": "#333333", "strokeWidth": 0.9},
          "encoding": {
            "x": {"field": "x", "type": "quantitative"},
            "y": {"field": "y", "type": "quantitative"},
            "detail": {"field": "e"},
            "order": {"field": "i", "type": "quantitative"}
          }
        },
        {
          "data": {"name": "labels"},
          "transform": [{"filter": "datum.p === 'o'"}],
          "mark": {"type": "text", "fontSize": 10, "fontWeight": "bold", "color": "#000000", "align": "center", "baseline": "middle"},
          "encoding": {
            "x": {"field": "tx", "type": "quantitative"},
            "y": {"field": "ty", "type": "quantitative"},
            "text": {"field": "t"}
          }
        }
      ]
    }
  ]
}
